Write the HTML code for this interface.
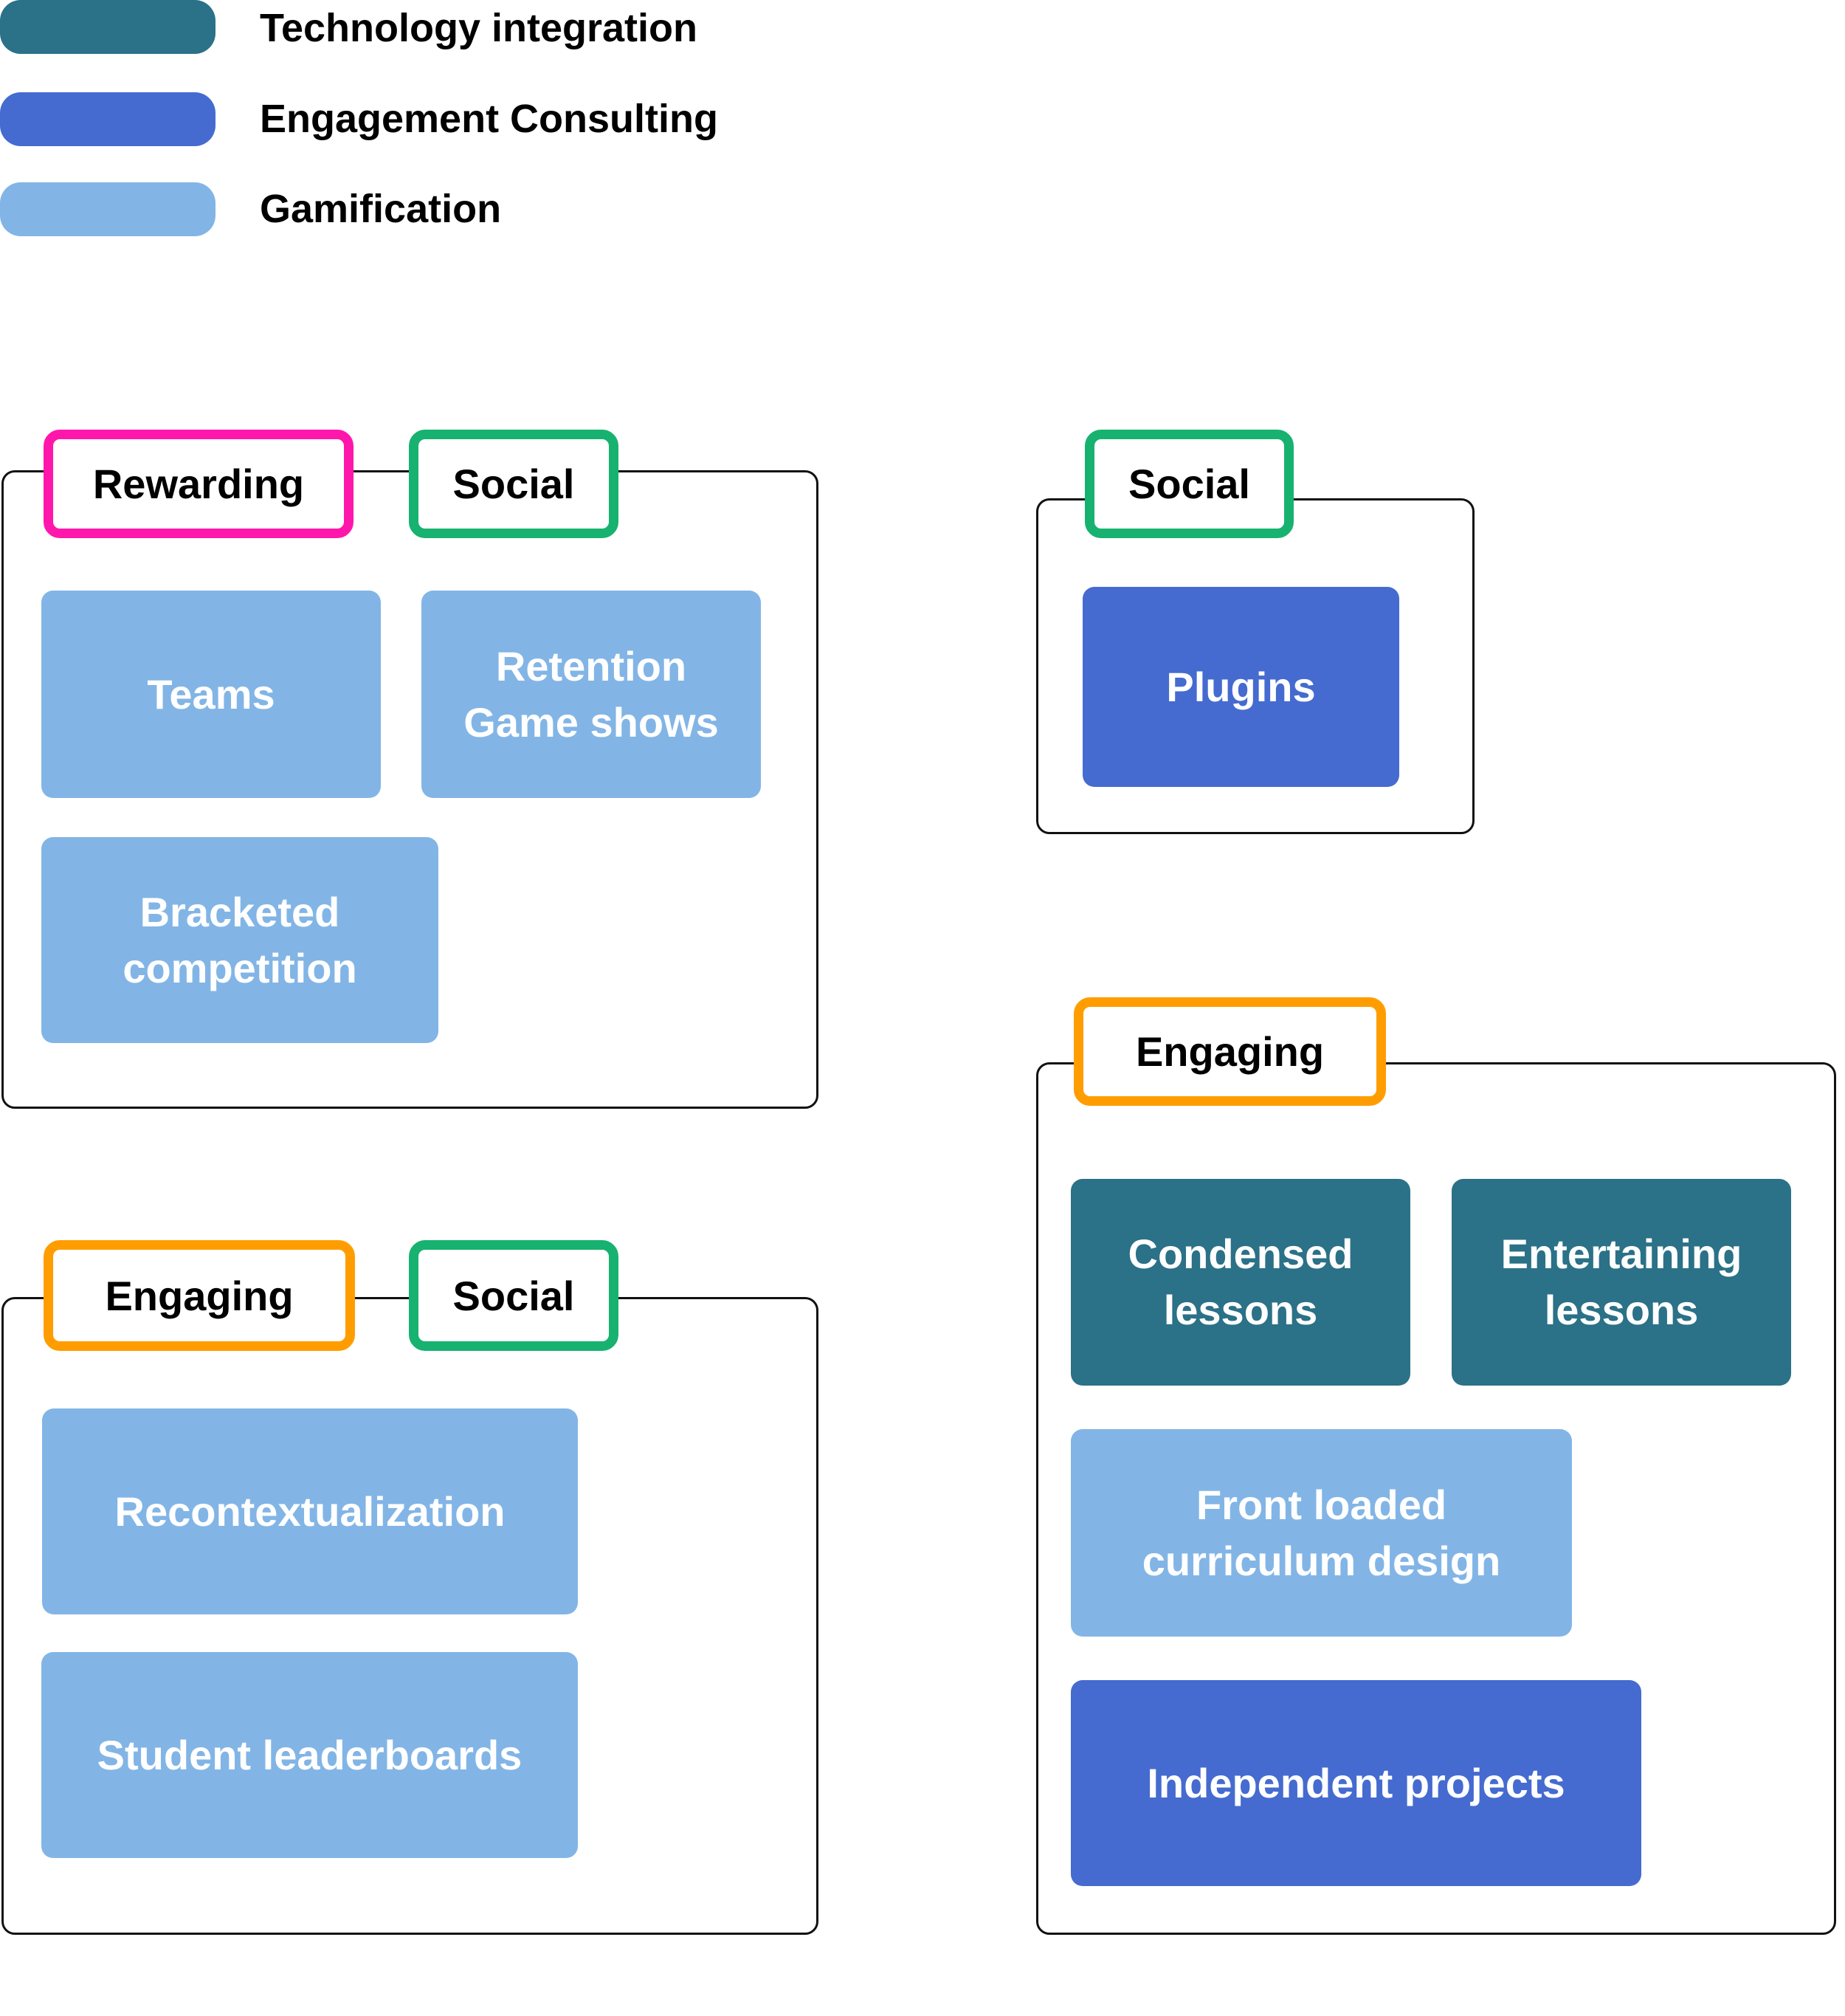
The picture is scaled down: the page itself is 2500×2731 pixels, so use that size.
<!DOCTYPE html>
<html><head><meta charset="utf-8"><style>
*{box-sizing:border-box;margin:0;padding:0}
body{width:2500px;height:2731px;background:#fff;position:relative;overflow:hidden;font-family:"Liberation Sans",sans-serif;font-weight:bold}
.a{position:absolute}
.sw{position:absolute;left:0;width:292px;height:73px;border-radius:28px}
.lg{position:absolute;left:352px;font-size:54px;color:#000;line-height:73px}
.box{position:absolute;border:3px solid #111;border-radius:18px;background:#fff}
.tag{position:absolute;background:#fff;border:13px solid;border-radius:22px;display:flex;align-items:center;justify-content:center;font-size:56px;color:#000}
.n{position:absolute;border-radius:16px;display:flex;align-items:center;justify-content:center;text-align:center;color:#fff;font-size:56px;line-height:76px}
.t{background:#2B7187}.b{background:#456BD0}.l{background:#82B5E6}
</style></head><body>
<div class="sw t" style="top:0"></div><div class="lg" style="top:2px">Technology integration</div>
<div class="sw b" style="top:125px"></div><div class="lg" style="top:125px">Engagement Consulting</div>
<div class="sw l" style="top:247px"></div><div class="lg" style="top:247px">Gamification</div>

<div class="box" style="left:2px;top:637px;width:1107px;height:865px"></div>
<div class="tag" style="left:59px;top:582px;width:420px;height:147px;border-color:#FF17AC">Rewarding</div>
<div class="tag" style="left:554px;top:582px;width:284px;height:147px;border-color:#17B26F">Social</div>
<div class="n l" style="left:56px;top:800px;width:460px;height:281px">Teams</div>
<div class="n l" style="left:571px;top:800px;width:460px;height:281px">Retention<br>Game shows</div>
<div class="n l" style="left:56px;top:1134px;width:538px;height:279px">Bracketed<br>competition</div>

<div class="box" style="left:1404px;top:675px;width:594px;height:455px"></div>
<div class="tag" style="left:1470px;top:582px;width:283px;height:147px;border-color:#17B26F">Social</div>
<div class="n b" style="left:1467px;top:795px;width:429px;height:271px">Plugins</div>

<div class="box" style="left:2px;top:1757px;width:1107px;height:864px"></div>
<div class="tag" style="left:59px;top:1680px;width:422px;height:150px;border-color:#FF9D00">Engaging</div>
<div class="tag" style="left:554px;top:1680px;width:284px;height:150px;border-color:#17B26F">Social</div>
<div class="n l" style="left:57px;top:1908px;width:726px;height:279px">Recontextualization</div>
<div class="n l" style="left:56px;top:2238px;width:727px;height:279px">Student leaderboards</div>

<div class="box" style="left:1404px;top:1439px;width:1084px;height:1182px"></div>
<div class="tag" style="left:1455px;top:1351px;width:423px;height:147px;border-color:#FF9D00">Engaging</div>
<div class="n t" style="left:1451px;top:1597px;width:460px;height:280px">Condensed<br>lessons</div>
<div class="n t" style="left:1967px;top:1597px;width:460px;height:280px">Entertaining<br>lessons</div>
<div class="n l" style="left:1451px;top:1936px;width:679px;height:281px">Front loaded<br>curriculum design</div>
<div class="n b" style="left:1451px;top:2276px;width:773px;height:279px">Independent projects</div>
</body></html>
